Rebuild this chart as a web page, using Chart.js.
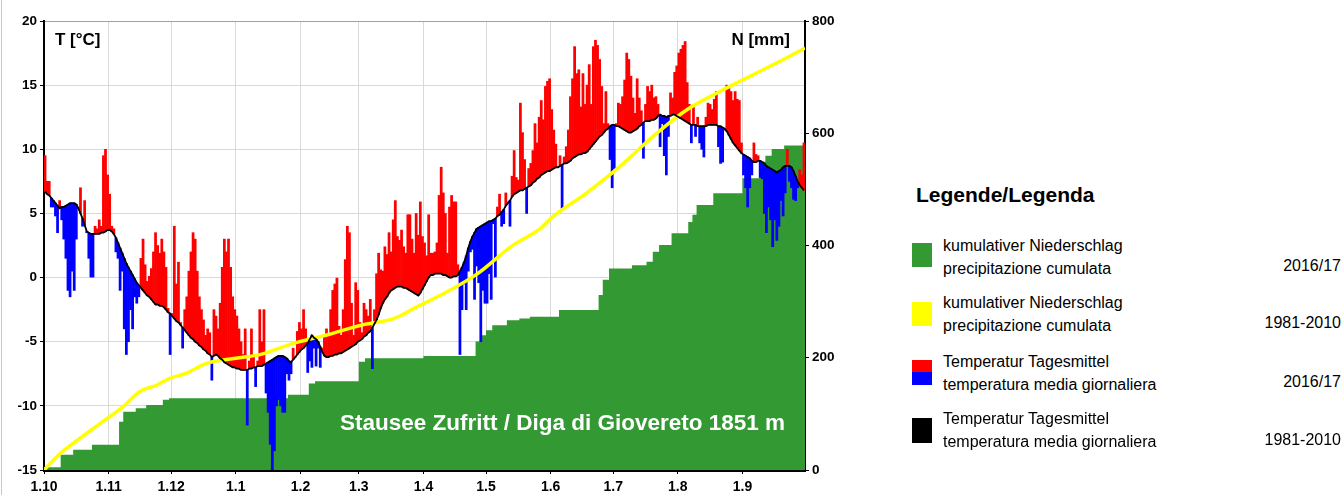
<!DOCTYPE html>
<html>
<head>
<meta charset="utf-8">
<script src="https://cdn.jsdelivr.net/npm/chart.js@4.4.0/dist/chart.umd.min.js"></script>
<style>
  body { margin: 0; background: #fff; font-family: Arial, "Liberation Sans", sans-serif; }
  #wrap { position: relative; width: 1344px; height: 495px; overflow: hidden; }
  #chartBox { position: absolute; left: 0; top: 0; width: 845px; height: 495px; }
  #frame { position: absolute; left: 1px; top: 0; width: 1px; height: 495px; background: #c8c8c8; }
  .lbl { position: absolute; white-space: nowrap; color: #000; }
  .bold { font-weight: bold; }
  .sw { position: absolute; width: 20px; }
  .leg { position: absolute; font-size: 16px; line-height: 23px; white-space: nowrap; }
  .yr { position: absolute; font-size: 16px; white-space: nowrap; text-align: right; right: 3px; }
</style>
</head>
<body>
<div id="wrap">
  <div id="chartBox"><canvas id="chart"></canvas></div>
  <div id="frame"></div>

  <div class="lbl bold" style="left:55px; top:30px; font-size:17px;">T [°C]</div>
  <div class="lbl bold" style="right:554px; top:30px; font-size:17px;">N [mm]</div>
  <div class="lbl bold" style="left:340px; top:410px; font-size:22.5px; color:#fff;">Stausee Zufritt / Diga di Giovereto 1851 m</div>

  <div class="lbl bold" style="left:916px; top:183px; font-size:21px;">Legende/Legenda</div>

  <div class="sw" style="left:912px; top:243px; height:24px; background:#339933;"></div>
  <div class="leg" style="left:943px; top:234px;">kumulativer Niederschlag<br>precipitazione cumulata</div>
  <div class="yr" style="top:257px;">2016/17</div>

  <div class="sw" style="left:912px; top:302px; height:24px; background:#ffff00;"></div>
  <div class="leg" style="left:943px; top:291px;">kumulativer Niederschlag<br>precipitazione cumulata</div>
  <div class="yr" style="top:314px;">1981-2010</div>

  <div class="sw" style="left:912px; top:360px; height:12px; background:#ff0000;"></div>
  <div class="sw" style="left:912px; top:372px; height:13px; background:#0000ff;"></div>
  <div class="leg" style="left:943px; top:350px;">Temperatur Tagesmittel<br>temperatura media giornaliera</div>
  <div class="yr" style="top:373px;">2016/17</div>

  <div class="sw" style="left:912px; top:418px; height:25px; background:#000;"></div>
  <div class="leg" style="left:943px; top:407px;">Temperatur Tagesmittel<br>temperatura media giornaliera</div>
  <div class="yr" style="top:431px;">1981-2010</div>
</div>

<script>
// =====================================================
// DATA
// =====================================================

// month starts, days after 1 October 2016
const monthTicks = [0, 31, 61, 92, 123, 151, 182, 212, 243, 273, 304, 335];
const monthLabels = ["1.10", "1.11", "1.12", "1.1", "1.2", "1.3", "1.4", "1.5", "1.6", "1.7", "1.8", "1.9"];

// daily mean temperature 2016/17 (°C), one value per day from 1.10
const temps = [
  9.5, 7.5, 7.5, 5.5, 5.5, 4.8, 3.5, 6.0, 4.5, 3.0,
  1.5, -1.0, -1.5, 0.5, -1.0, 3.0, 5.5, 7.0, 4.0, 6.0,
  3.5, 1.5, 0.0, 0.0, 4.0, 3.8, 4.5, 4.0, 9.5, 10.0,
  8.0, 6.5, 4.0, 3.8, 2.0, 1.5, -1.0, 0.5, -4.0, -6.0,
  -5.0, -2.5, -4.0, -1.5, -2.0, -1.5, 1.5, 3.0, 1.0, -0.3,
  0.1, 0.7, 2.0, 3.5, 2.5, 1.9, 3.0, 2.0, 0.8, -2.4,
  -6.0, -2.8, 4.0, -0.5, 1.2, -3.5, -5.5, -2.5, -1.5, 0.5,
  2.0, 3.5, 3.0, 0.5, -1.5, -2.5, -3.3, -4.5, -4.0, -4.3,
  -8.0, -2.5, -3.0, -4.0, -2.0, 0.8, 3.0, 2.0, 3.0, 0.8,
  -1.5, -2.5, -3.0, -4.0, -5.0, -6.0, -4.0, -11.5, -6.5, -4.0,
  -6.0, -8.5, -6.5, -2.5, -5.0, -2.5, -9.0, -10.5, -13.0, -15.0,
  -13.5, -10.0, -9.5, -10.0, -10.5, -10.5, -7.5, -8.0, -7.5, -5.5,
  -6.2, -4.2, -3.5, -4.0, -2.5, -4.0, -7.4, -6.5, -7.0, -5.5,
  -6.9, -5.5, -7.0, -5.5, -4.6, -4.0, -4.5, -2.5, -1.0, -0.5,
  0.0, -3.8, -4.5, -2.5, 1.4, 4.0, 3.5, -2.0, -4.5, -0.4,
  -1.0, -3.5, -4.3, -2.0, -2.5, -3.0, -1.7, -7.1, -2.5, 0.3,
  1.9, 0.6, 0.5, 2.4, 1.8, 3.5, 2.0, 4.5, 6.0, 3.2,
  2.9, 3.7, 2.4, 1.9, 4.9, 4.9, 3.0, 1.9, 5.0, 3.3,
  5.9, 3.2, 2.7, 1.7, 4.9, 1.9, 1.9, 2.0, 2.7, 6.4,
  8.6, 6.6, 5.0, 1.9, 5.5, 6.4, 5.9, 5.9, 1.0, -6.0,
  -2.5, -0.5, -2.5, 0.5, 2.0, 2.2, -1.7, 0.9, -0.4, -5.0,
  -1.0, -2.0, -2.0, 0.3, -1.7, 4.2, 0.0, 5.5, 6.5, 4.0,
  4.2, 6.6, 5.9, 4.0, 7.9, 9.9, 7.8, 7.6, 13.6, 11.3,
  9.2, 5.0, 8.5, 8.9, 9.9, 12.0, 10.5, 12.5, 13.8, 12.3,
  14.9, 15.3, 15.5, 13.1, 11.5, 10.4, 8.6, 9.5, 5.4, 9.4,
  10.2, 11.5, 14.1, 15.5, 18.0, 15.9, 16.2, 13.3, 15.9, 13.5,
  15.0, 16.6, 13.5, 18.0, 18.5, 18.1, 17.0, 14.9, 12.0, 14.5,
  12.0, 9.2, 7.0, 8.5, 12.0, 13.6, 13.5, 14.1, 15.4, 17.5,
  17.0, 15.7, 14.0, 12.8, 15.5, 14.0, 13.0, 9.3, 13.5, 14.9,
  14.5, 15.0, 14.0, 14.1, 13.5, 10.2, 12.0, 9.5, 8.0, 11.0,
  14.4, 14.0, 16.0, 16.5, 17.5, 17.8, 18.1, 18.4, 15.2, 13.5,
  10.5, 13.4, 11.0, 12.5, 10.5, 10.0, 9.4, 12.5, 13.6, 13.5,
  13.1, 13.9, 14.5, 10.2, 8.9, 9.0, 11.5, 15.0, 14.9, 14.5,
  13.8, 14.5, 13.9, 13.8, 10.5, 8.0, 7.0, 5.5, 7.0, 8.0,
  10.5, 9.6, 9.5, 7.8, 7.7, 5.0, 3.5, 5.5, 4.5, 2.4,
  4.5, 2.9, 4.0, 6.0, 4.8, 6.6, 10.0, 7.5, 7.0, 6.1,
  6.0, 7.0, 8.4, 8.0, 10.5
];

// daily mean temperature 1981-2010 (°C)
const climTemps = [
  6.7, 6.5, 6.4, 6.2, 6.0, 5.8, 5.6, 5.4, 5.5, 5.5,
  5.6, 5.7, 5.8, 5.8, 5.8, 5.7, 5.4, 5.0, 4.6, 4.1,
  3.6, 3.5, 3.4, 3.4, 3.4, 3.4, 3.4, 3.5, 3.5, 3.6,
  3.7, 3.7, 3.6, 3.4, 3.1, 2.7, 2.3, 1.9, 1.5, 1.1,
  0.8, 0.5, 0.2, -0.1, -0.4, -0.6, -0.8, -1.0, -1.2, -1.4,
  -1.5, -1.7, -1.9, -2.1, -2.1, -2.2, -2.2, -2.3, -2.5, -2.7,
  -2.8, -3.0, -3.2, -3.4, -3.5, -3.7, -3.9, -4.1, -4.3, -4.5,
  -4.7, -4.8, -5.0, -5.1, -5.3, -5.4, -5.6, -5.7, -5.9, -6.0,
  -6.2, -6.1, -6.0, -6.1, -6.3, -6.4, -6.6, -6.7, -6.8, -6.9,
  -7.0, -7.0, -7.1, -7.1, -7.2, -7.2, -7.2, -7.2, -7.1, -7.1,
  -7.0, -7.0, -6.9, -6.9, -6.9, -6.8, -6.7, -6.6, -6.5, -6.4,
  -6.3, -6.2, -6.1, -6.1, -6.1, -6.2, -6.3, -6.5, -6.6, -6.4,
  -6.2, -6.0, -5.8, -5.6, -5.5, -5.3, -5.1, -4.8, -4.5, -4.7,
  -4.8, -5.0, -5.4, -5.8, -6.1, -6.2, -6.2, -6.1, -6.1, -6.0,
  -6.0, -5.9, -5.9, -5.8, -5.7, -5.6, -5.5, -5.4, -5.3, -5.2,
  -5.0, -4.9, -4.8, -4.6, -4.5, -4.3, -4.2, -3.9, -3.6, -3.3,
  -2.9, -2.4, -2.0, -1.7, -1.5, -1.2, -1.0, -0.9, -0.8, -0.7,
  -0.7, -0.7, -0.8, -0.8, -0.9, -1.0, -1.1, -1.2, -1.3, -1.4,
  -1.2, -0.9, -0.6, -0.3, 0.0, 0.2, 0.2, 0.3, 0.3, 0.3,
  0.3, 0.2, 0.2, 0.1, 0.0, 0.0, 0.1, 0.1, 0.2, 0.5,
  0.8, 1.2, 1.7, 2.3, 2.8, 3.2, 3.5, 3.8, 3.9, 4.0,
  4.1, 4.2, 4.3, 4.4, 4.4, 4.5, 4.6, 4.8, 4.9, 5.1,
  5.3, 5.6, 5.8, 6.0, 6.3, 6.5, 6.6, 6.7, 6.8, 6.8,
  6.9, 7.0, 7.1, 7.2, 7.4, 7.5, 7.7, 7.8, 8.0, 8.1,
  8.2, 8.3, 8.3, 8.4, 8.5, 8.6, 8.6, 8.7, 8.8, 8.9,
  8.9, 9.0, 9.1, 9.3, 9.4, 9.5, 9.6, 9.6, 9.7, 9.7,
  9.8, 10.0, 10.2, 10.4, 10.6, 10.8, 11.0, 11.1, 11.3, 11.5,
  11.6, 11.8, 11.9, 11.9, 11.8, 11.8, 11.7, 11.6, 11.5, 11.4,
  11.3, 11.3, 11.4, 11.5, 11.6, 11.8, 11.9, 12.1, 12.2, 12.2,
  12.2, 12.3, 12.3, 12.4, 12.6, 12.7, 12.6, 12.6, 12.5, 12.6,
  12.6, 12.7, 12.7, 12.6, 12.5, 12.4, 12.3, 12.2, 12.1, 12.0,
  11.9, 11.9, 11.9, 11.8, 11.8, 11.8, 11.8, 11.8, 11.9, 11.9,
  11.9, 11.9, 11.9, 11.8, 11.8, 11.7, 11.6, 11.4, 11.1, 10.8,
  10.5, 10.3, 10.1, 9.9, 9.7, 9.6, 9.5, 9.4, 9.3, 9.1,
  9.0, 9.0, 9.1, 9.1, 9.0, 8.9, 8.7, 8.6, 8.5, 8.4,
  8.3, 8.2, 8.3, 8.4, 8.6, 8.7, 8.7, 8.7, 8.6, 8.3,
  7.9, 7.5, 7.2, 7.0, 6.8
];

// cumulative precipitation 2016/17 (mm): day where a new total starts
const precipDays = [0, 8, 14, 23, 36, 38, 44, 49, 57, 60, 117, 127, 130, 151, 154, 182,
  207, 210, 212, 215, 222, 228, 233, 247, 266, 268, 271, 282, 289, 292, 295, 301,
  309, 311, 313, 321, 335, 343, 346, 349, 355, 365];
const precipSum = [5, 27, 36, 45, 86, 104, 110, 116, 125, 128, 134, 154, 158, 193, 199, 203,
  229, 240, 249, 258, 267, 270, 273, 285, 312, 339, 359, 365, 371, 389, 401, 422,
  442, 455, 472, 493, 520, 549, 560, 572, 578, 578];

// cumulative precipitation 1981-2010 (mm)
const climPrecipDays = [0, 8, 16, 27, 38, 46, 54, 60, 68, 78, 92, 104, 120, 136, 152,
  168, 179, 192, 208, 224, 238, 244, 260, 276, 292, 308, 324, 340, 356, 365];
const climPrecip = [0, 30, 53, 83, 113, 140, 151, 163, 172, 190, 199, 206, 226, 241, 258,
  270, 291, 315, 350, 398, 430, 451, 493, 540, 594, 641, 674, 704, 734, 752];

// =====================================================
// COLOURS
// =====================================================

const RED = "#ff0000";
const BLUE = "#0000ff";
const GREEN = "#339933";
const YELLOW = "#ffff00";
const GRID = "#d9d9d9";

const FONT_FAMILY = "Arial, 'Liberation Sans', sans-serif";

// =====================================================
// DATASETS
// =====================================================

const tempBars = temps.map((t, i) => ({ x: i + 0.5, y: [climTemps[i], t] }));

const tempColors = temps.map((t, i) => t >= climTemps[i] ? RED : BLUE);

const climLine = climTemps.map((c, i) => ({ x: i + 0.5, y: c }));

const precipSteps = precipDays.map((d, i) => ({ x: d, y: precipSum[i] }));

const climPrecipLine = climPrecipDays.map((d, i) => ({ x: d, y: climPrecip[i] }));

// =====================================================
// CHART
// =====================================================

new Chart(document.getElementById("chart"), {
  type: "bar",
  data: {
    datasets: [
      {
        type: "line",
        label: "Temperatur 1981-2010",
        data: climLine,
        borderColor: "#000",
        borderWidth: 1.8,
        pointRadius: 0,
        tension: 0,
        yAxisID: "y",
        order: 1
      },
      {
        type: "line",
        label: "Niederschlag 1981-2010",
        data: climPrecipLine,
        borderColor: YELLOW,
        borderWidth: 3.5,
        pointRadius: 0,
        cubicInterpolationMode: "monotone",
        yAxisID: "y1",
        order: 2
      },
      {
        type: "bar",
        label: "Temperatur 2016/17",
        data: tempBars,
        backgroundColor: tempColors,
        borderWidth: 0,
        barPercentage: 1,
        categoryPercentage: 1,
        grouped: false,
        yAxisID: "y",
        order: 3
      },
      {
        type: "line",
        label: "Niederschlag 2016/17",
        data: precipSteps,
        stepped: "before",
        borderWidth: 0,
        borderColor: GREEN,
        backgroundColor: GREEN,
        pointRadius: 0,
        fill: "origin",
        yAxisID: "y1",
        order: 4
      }
    ]
  },
  options: {
    responsive: true,
    maintainAspectRatio: false,
    animation: false,
    layout: {
      padding: { top: 21, bottom: 0, left: 0, right: 0 }
    },
    plugins: {
      legend: { display: false },
      tooltip: { enabled: false }
    },
    scales: {
      x: {
        type: "linear",
        min: 0,
        max: 365,
        offset: false,
        afterBuildTicks: scale => {
          scale.ticks = monthTicks.map(v => ({ value: v }));
        },
        afterFit: scale => {
          scale.height = 25;
        },
        ticks: {
          autoSkip: false,
          maxRotation: 0,
          padding: 5,
          color: "#000",
          font: { family: FONT_FAMILY, size: 14, weight: "bold" },
          callback: value => monthLabels[monthTicks.indexOf(value)]
        },
        grid: {
          offset: false,
          color: GRID,
          tickColor: "#000",
          tickLength: 4
        },
        border: { color: "#000", width: 3 }
      },
      y: {
        position: "left",
        min: -15,
        max: 20,
        afterFit: scale => {
          scale.width = 44;
        },
        ticks: {
          stepSize: 5,
          padding: 3,
          color: "#000",
          font: { family: FONT_FAMILY, size: 13.5, weight: "bold" }
        },
        grid: {
          color: ctx => ctx.tick && ctx.tick.value === 20 ? "#a0a0a0" : GRID,
          tickColor: "#000",
          tickLength: 4
        },
        border: { color: "#000", width: 2 }
      },
      y1: {
        position: "right",
        min: 0,
        max: 800,
        afterFit: scale => {
          scale.width = 40;
        },
        ticks: {
          stepSize: 200,
          padding: 3,
          color: "#000",
          font: { family: FONT_FAMILY, size: 13.5, weight: "bold" }
        },
        grid: {
          drawOnChartArea: false,
          tickColor: "#000",
          tickLength: 4
        },
        border: { color: "#000", width: 2 }
      }
    }
  }
});
</script>
</body>
</html>
